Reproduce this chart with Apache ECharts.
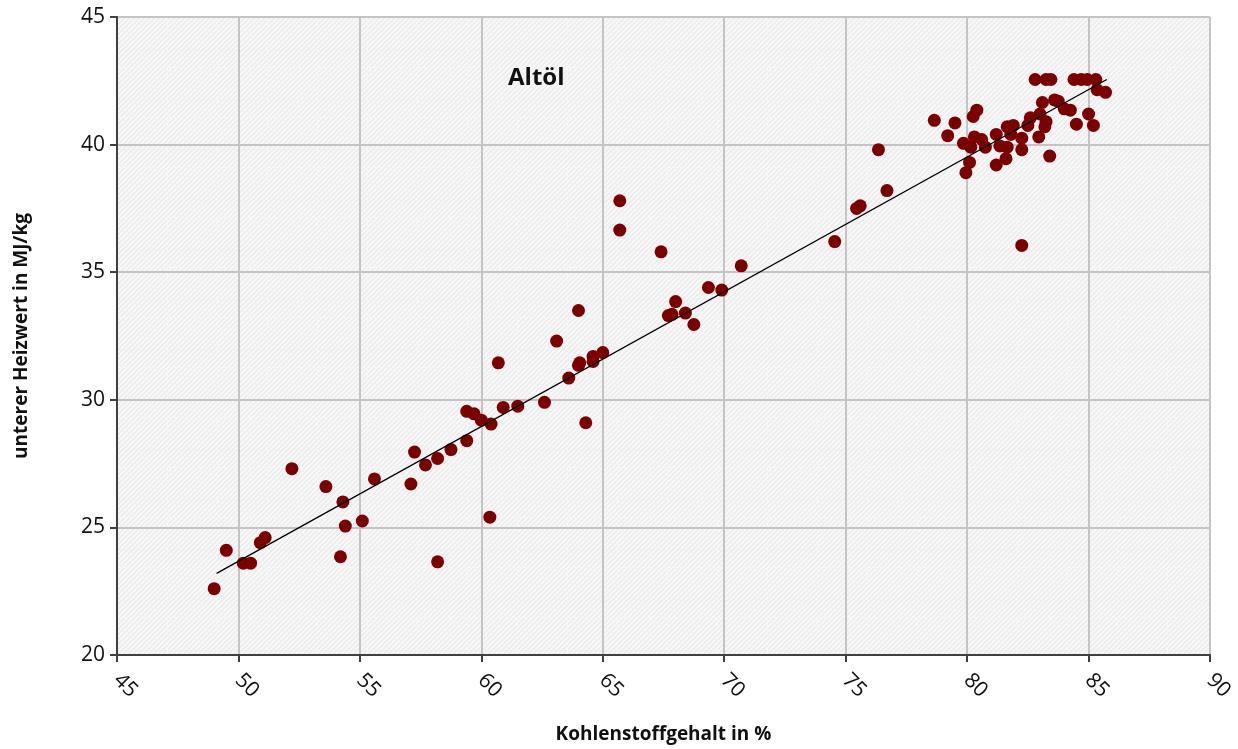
<!DOCTYPE html>
<html>
<head>
<meta charset="utf-8">
<script src="https://cdn.jsdelivr.net/npm/echarts@6/dist/echarts.min.js"></script>
<style>
  html, body { margin: 0; padding: 0; background: #fff; }
  #chart { width: 1238px; height: 749px; }
</style>
</head>
<body>
<div id="chart"></div>
<script>
// Kohlenstoffgehalt in % (x) und unterer Heizwert in MJ/kg (y)
const carbonContent = [
  49.0, 49.5, 50.2, 50.5, 50.9, 51.1, 52.2, 53.6, 54.3, 54.4,
  54.2, 55.1, 55.6, 57.25, 57.1, 57.7, 58.2, 58.2, 58.75, 59.4,
  59.4, 59.7, 60.0, 60.4, 60.35, 60.7, 60.9, 61.5, 62.6, 63.1,
  63.6, 64.0, 64.0, 64.05, 64.3, 64.6, 64.6, 65.0, 65.7, 65.7,
  67.4, 67.7, 67.85, 68.0, 68.4, 68.75, 69.35, 69.9, 70.7, 74.55,
  75.45, 75.6, 76.35, 76.7,
  78.65, 79.2, 79.5, 79.85, 79.95, 80.1, 80.15, 80.25, 80.4, 80.3,
  80.6, 80.75, 81.2, 81.35, 81.2, 81.6, 81.65, 81.65, 81.9, 81.8,
  82.25, 82.25, 82.25, 82.5, 82.6, 82.95, 83.0, 83.1, 83.2, 83.25,
  83.4, 82.8, 83.25, 83.45, 83.6, 83.75, 84.0, 84.25, 84.4, 84.7,
  84.95, 85.3, 84.5, 85.0, 85.2, 85.35, 85.7
]
const heatingValue = [
  22.6, 24.1, 23.6, 23.6, 24.4, 24.6, 27.3, 26.6, 26.0, 25.05,
  23.85, 25.25, 26.9, 27.95, 26.7, 27.45, 27.7, 23.65, 28.05, 28.4,
  29.55, 29.45, 29.2, 29.05, 25.4, 31.45, 29.7, 29.75, 29.9, 32.3,
  30.85, 33.5, 31.35, 31.45, 29.1, 31.7, 31.5, 31.85, 36.65, 37.8,
  35.8, 33.3, 33.35, 33.85, 33.4, 32.95, 34.4, 34.3, 35.25, 36.2,
  37.5, 37.6, 39.8, 38.2,
  40.95, 40.35, 40.85, 40.05, 38.9, 39.3, 39.9, 41.1, 41.35, 40.3,
  40.2, 39.9, 40.4, 39.95, 39.2, 39.45, 39.9, 40.7, 40.75, 40.4,
  40.25, 39.8, 36.05, 40.75, 41.05, 40.3, 41.2, 41.65, 40.7, 40.9,
  39.55, 42.55, 42.55, 42.55, 41.75, 41.7, 41.4, 41.35, 42.55, 42.55,
  42.55, 42.55, 40.8, 41.2, 40.75, 42.15, 42.05
]
// lineare Trendlinie (Anfangs- und Endpunkt)
const trendX = [49.1, 85.75]
const trendY = [23.2, 42.55]

const xTicks = { min: 45, max: 90, step: 5 }
const yTicks = { min: 20, max: 45, step: 5 }

const points = carbonContent.map((c, i) => [c, heatingValue[i]])
const trendLine = trendX.map((c, i) => [c, trendY[i]])

// schraffierter Hintergrund der Zeichenfläche
const makeHatch = () => {
  const size = 50
  const cv = document.createElement('canvas')
  cv.width = size
  cv.height = size
  const ctx = cv.getContext('2d')
  ctx.fillStyle = '#ebebeb'
  ctx.fillRect(0, 0, size, size)
  ctx.strokeStyle = '#f8f8f8'
  ctx.lineWidth = 2
  for (let x = -size; x <= size * 2; x += 5) {
    ctx.beginPath()
    ctx.moveTo(x, size)
    ctx.lineTo(x + size, 0)
    ctx.stroke()
  }
  ctx.strokeStyle = '#f7f7f7'
  ctx.lineWidth = 1
  ctx.setLineDash([3, 3])
  ctx.beginPath()
  ctx.moveTo(17.5, 0)
  ctx.lineTo(17.5, size)
  ctx.moveTo(0, 17.5)
  ctx.lineTo(size, 17.5)
  ctx.stroke()
  return cv
}

const chart = echarts.init(document.getElementById('chart'), null, { renderer: 'canvas' })

const fontFamily = '"Open Sans", "Noto Sans", sans-serif'

const option = {
  animation: false,
  backgroundColor: '#ffffff',
  title: {
    text: 'Altöl',
    left: 503,
    top: 61,
    textStyle: {
      fontFamily: fontFamily,
      fontWeight: 'bold',
      fontSize: 24,
      color: '#111',
    },
  },
  grid: {
    left: 117,
    top: 17,
    right: 28,
    bottom: 94,
    outerBoundsMode: 'none',
    containLabel: false,
    show: true,
    borderWidth: 0,
    backgroundColor: { image: makeHatch(), repeat: 'repeat' },
  },
  xAxis: {
    type: 'value',
    min: xTicks.min,
    max: xTicks.max,
    interval: xTicks.step,
    name: 'Kohlenstoffgehalt in %',
    nameLocation: 'middle',
    nameGap: 70,
    nameTextStyle: {
      fontFamily: fontFamily,
      fontWeight: 'bold',
      fontSize: 19,
      color: '#111',
    },
    axisLine: { show: true, lineStyle: { color: '#404040', width: 2 } },
    axisTick: { show: true, inside: false, length: 7, lineStyle: { color: '#404040', width: 2 } },
    axisLabel: {
      rotate: -45,
      margin: 22,
      fontFamily: fontFamily,
      fontSize: 21,
      color: '#111',
    },
    splitLine: { show: true, lineStyle: { color: '#c4c4c4', width: 2 } },
  },
  yAxis: {
    type: 'value',
    min: yTicks.min,
    max: yTicks.max,
    interval: yTicks.step,
    name: 'unterer Heizwert in MJ/kg',
    nameLocation: 'middle',
    nameGap: 86,
    nameTextStyle: {
      fontFamily: fontFamily,
      fontWeight: 'bold',
      fontSize: 19,
      color: '#111',
    },
    axisLine: { show: true, lineStyle: { color: '#404040', width: 2 } },
    axisTick: { show: true, inside: false, length: 7, lineStyle: { color: '#404040', width: 2 } },
    axisLabel: {
      margin: 12,
      fontFamily: fontFamily,
      fontSize: 21,
      color: '#111',
    },
    splitLine: { show: true, lineStyle: { color: '#c4c4c4', width: 2 } },
  },
  series: [
    {
      name: 'Altöl',
      type: 'scatter',
      data: points,
      symbol: 'circle',
      symbolSize: 13,
      itemStyle: { color: '#7b0000', opacity: 1 },
      z: 3,
    },
    {
      name: 'Trend',
      type: 'line',
      data: trendLine,
      symbol: 'none',
      lineStyle: { color: '#000000', width: 1.3 },
      z: 4,
    },
  ],
}

option && chart.setOption(option)
</script>
</body>
</html>
